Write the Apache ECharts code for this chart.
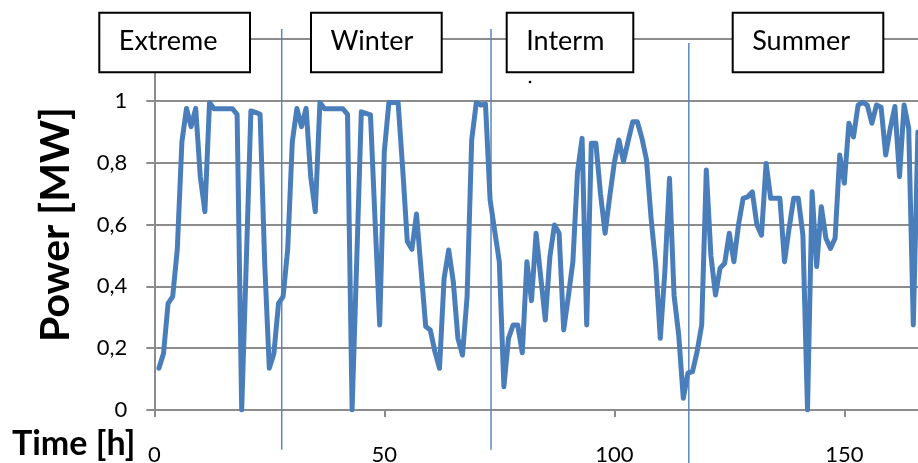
<!DOCTYPE html>
<html>
<head>
<meta charset="utf-8">
<title>Power profile</title>
<script src="https://cdn.jsdelivr.net/npm/echarts@6/dist/echarts.min.js"></script>
<style>
  html, body { margin: 0; padding: 0; background: #fff; }
  #chart { width: 918px; height: 463px; }
</style>
</head>
<body>
<div id="chart"></div>
<script>
// Hourly time steps of the profile
const hours = [
  1, 2, 3, 4, 5, 6, 7, 8, 9, 10, 11, 12, 13, 14, 15, 16, 17, 18, 19, 20,
  21, 22, 23, 24, 25, 26, 27, 28, 29, 30, 31, 32, 33, 34, 35, 36, 37, 38, 39, 40,
  41, 42, 43, 44, 45, 46, 47, 48, 49, 50, 51, 52, 53, 54, 55, 56, 57, 58, 59, 60,
  61, 62, 63, 64, 65, 66, 67, 68, 69, 70, 71, 72, 73, 74, 75, 76, 77, 78, 79, 80,
  81, 82, 83, 84, 85, 86, 87, 88, 89, 90, 91, 92, 93, 94, 95, 96, 97, 98, 99, 100,
  101, 102, 103, 104, 105, 106, 107, 108, 109, 110, 111, 112, 113, 114, 115, 116, 117, 118, 119, 120,
  121, 122, 123, 124, 125, 126, 127, 128, 129, 130, 131, 132, 133, 134, 135, 136, 137, 138, 139, 140,
  141, 142, 143, 144, 145, 146, 147, 148, 149, 150, 151, 152, 153, 154, 155, 156, 157, 158, 159, 160,
  161, 162, 163, 164, 165, 166
];

// Power output in MW for each hour
const power = [
  0.135, 0.183, 0.345, 0.367, 0.52, 0.868, 0.976, 0.917, 0.976, 0.755,
  0.642, 0.995, 0.975, 0.975, 0.975, 0.975, 0.975, 0.957, 0, 0.48,
  0.968, 0.963, 0.957, 0.475, 0.135, 0.183, 0.345, 0.367, 0.52, 0.868,
  0.976, 0.917, 0.976, 0.755, 0.642, 0.995, 0.975, 0.975, 0.975, 0.975,
  0.975, 0.957, 0, 0.48, 0.965, 0.96, 0.955, 0.61, 0.275, 0.836,
  0.995, 0.995, 0.995, 0.78, 0.545, 0.52, 0.634, 0.453, 0.27, 0.259,
  0.189, 0.135, 0.426, 0.518, 0.415, 0.232, 0.178, 0.367, 0.874, 0.995,
  0.987, 0.99, 0.68, 0.58, 0.48, 0.075, 0.232, 0.275, 0.275, 0.185,
  0.48, 0.354, 0.572, 0.431, 0.291, 0.496, 0.599, 0.572, 0.259, 0.367,
  0.48, 0.77, 0.879, 0.275, 0.863, 0.863, 0.70, 0.572, 0.69, 0.80,
  0.874, 0.804, 0.87, 0.933, 0.933, 0.88, 0.81, 0.62, 0.47, 0.232,
  0.45, 0.75, 0.37, 0.243, 0.038, 0.119, 0.124, 0.189, 0.275, 0.777,
  0.50, 0.372, 0.459, 0.475, 0.572, 0.48, 0.599, 0.685, 0.69, 0.706,
  0.599, 0.566, 0.798, 0.685, 0.685, 0.685, 0.48, 0.588, 0.685, 0.685,
  0.566, 0, 0.706, 0.464, 0.658, 0.556, 0.523, 0.556, 0.825, 0.734,
  0.928, 0.884, 0.987, 0.996, 0.987, 0.928, 0.987, 0.98, 0.825, 0.912,
  0.982, 0.755, 0.987, 0.912, 0.275, 0.9
];

// Season names shown in the header boxes
const seasonLabels = ['Extreme', 'Winter', 'Interm', 'Summer'];

// Hours at which the season separators are drawn
const seasonBreaks = [27.7, 73.2, 116.2];

// Axis titles
const xTitle = 'Time [h]';
const yTitle = 'Power [MW]';

const FONT = 'Lato, "Open Sans", sans-serif';
const GRID_GRAY = '#8c8c8c';
const LINE_BLUE = '#4a7ebb';
const SEP_BLUE = '#5b87c0';

const chart = echarts.init(document.getElementById('chart'), null, { renderer: 'canvas' });

const seriesData = hours.map((h, i) => [h, power[i]]);

chart.setOption({
  animation: false,
  backgroundColor: '#ffffff',
  grid: {
    left: 154.3, top: 39.2, width: 782, height: 370.8,
    containLabel: false,
    outerBoundsMode: 'none'
  },
  xAxis: {
    type: 'value',
    min: 0,
    max: 170,
    interval: 50,
    name: xTitle,
    nameLocation: 'start',
    nameGap: 19,
    nameTextStyle: {
      fontFamily: FONT, fontSize: 34, fontWeight: 'bold', color: '#000',
      verticalAlign: 'top', padding: [17, 0, 0, 0]
    },
    axisLine: { show: true, onZero: false, lineStyle: { color: GRID_GRAY, width: 2 } },
    axisTick: { show: true, length: 7, lineStyle: { color: GRID_GRAY, width: 2 } },
    axisLabel: {
      fontFamily: FONT, fontSize: 22, color: '#000', margin: 34,
      showMaxLabel: false
    },
    splitLine: { show: false }
  },
  yAxis: {
    type: 'value',
    min: 0,
    max: 1.2,
    interval: 0.2,
    name: yTitle,
    nameLocation: 'middle',
    nameRotate: 90,
    nameGap: 78,
    nameTextStyle: { fontFamily: FONT, fontSize: 41, fontWeight: 'bold', color: '#000' },
    axisLine: { show: true, lineStyle: { color: GRID_GRAY, width: 2 } },
    axisTick: { show: true, length: 8, lineStyle: { color: GRID_GRAY, width: 2 } },
    axisLabel: {
      fontFamily: FONT, fontSize: 22, color: '#000', margin: 27,
      formatter: v => String(Math.round(v * 10) / 10).replace('.', ',')
    },
    splitLine: { show: true, lineStyle: { color: GRID_GRAY, width: 2 } }
  },
  series: [{
    type: 'line',
    data: seriesData,
    showSymbol: false,
    symbol: 'none',
    z: 3,
    lineStyle: { color: LINE_BLUE, width: 5, join: 'round', cap: 'round' }
  }]
});

// Header boxes and separators, placed after the grid is laid out
const boxLayout = [
  { x: 99.3, w: 150.7 },
  { x: 311, w: 130.7 },
  { x: 506.7, w: 126.6 },
  { x: 732.7, w: 150.6 }
];
const BOX_TOP = 12.7, BOX_H = 59.6;

const graphics = [];

seasonBreaks.forEach((h, i) => {
  const top = chart.convertToPixel({ gridIndex: 0 }, [h, i === 2 ? 1.188 : 1.233]);
  const bottom = chart.convertToPixel({ gridIndex: 0 }, [h, i === 2 ? -0.2 : -0.129]);
  graphics.push({
    type: 'line',
    z: 1,
    shape: { x1: top[0], y1: top[1], x2: bottom[0], y2: bottom[1] },
    style: { stroke: SEP_BLUE, lineWidth: 1.5 }
  });
});

seasonLabels.forEach((label, i) => {
  const b = boxLayout[i];
  graphics.push({
    type: 'rect',
    z: 100,
    shape: { x: b.x, y: BOX_TOP, width: b.w, height: BOX_H },
    style: { fill: '#ffffff', stroke: '#000000', lineWidth: 2 }
  });
  graphics.push({
    type: 'text',
    z: 101,
    x: b.x + 19.5,
    y: BOX_TOP + BOX_H / 2 - 1,
    style: {
      text: label,
      fontFamily: FONT,
      fontSize: 27,
      fill: '#000000',
      align: 'left',
      verticalAlign: 'middle'
    }
  });
});

graphics.push({
  type: 'circle',
  z: 101,
  shape: { cx: 530, cy: 82, r: 1.3 },
  style: { fill: '#000000' }
});

chart.setOption({ graphic: graphics });
</script>
</body>
</html>
